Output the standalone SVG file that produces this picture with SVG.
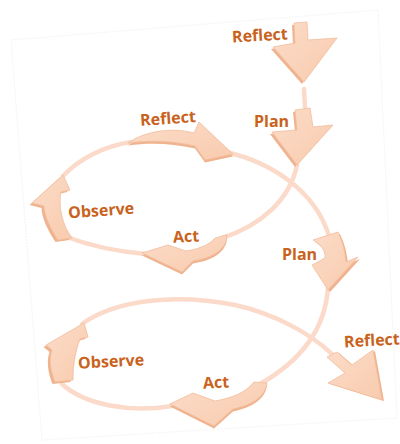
<svg xmlns="http://www.w3.org/2000/svg" width="400" height="444" viewBox="0 0 400 444">
  <defs>
    <linearGradient id="peach" x1="0" y1="0" x2="1" y2="1">
      <stop offset="0" stop-color="#fcdcc8"/>
      <stop offset="1" stop-color="#f8cbae"/>
    </linearGradient>
    <style>
      .page { fill: #ffffff; stroke: #f5f5f5; stroke-width: 1.2; stroke-dasharray: 2 1; }
      .loop { fill: none; stroke: #fbdaca; stroke-width: 4.5; stroke-linecap: round; }
      .side { fill: #efb48f; }
      .face { fill: url(#peach); stroke: #f1bd9c; stroke-width: 0.8; stroke-linejoin: round; }
      .label { font-family: "Open Sans", "Liberation Sans", sans-serif; font-weight: 700; font-size: 16px; fill: #c8621c; }
    </style>
    <!-- arrow outlines, reused for the shaded side and the face -->
    <path id="a-reflect-top" d="M294,23 L307,22 L308,40 L337,38 L304,82 L273,47 L295,43 Z"/>
    <path id="a-plan-1" d="M295,110 L310,108 L313,127 L333,125 L297,165 L272,132 L297,130 Z"/>
    <path id="a-reflect-1" d="M128,143 C145,131 172,127 194,133 L199,122 L233,154 L205,160 L195,146 C173,141 150,140 128,143 Z"/>
    <path id="a-observe-1" d="M58,240 C50,228 44,215 44,206 L32,203 L63,175 L70,190 L61,192 C58,205 62,225 72,238 Z"/>
    <path id="a-act-1" d="M227,235 C227,249 213,258 193,261 L182,272 L142,253 L168,245 L186,251 C200,249 210,244 215,238 Z"/>
    <path id="a-plan-2" d="M313,240 L338,232 C343,242 345,252 346,262 L358,257 L328,290 L312,265 L325,258 C326,250 320,244 313,240 Z"/>
    <path id="a-reflect-2" d="M327,357 L337,352 L352,365 L373,350 L382,400 L328,383 L345,373 Z"/>
    <path id="a-act-2" d="M267,383 C265,397 252,405 233,409 L214,426 L170,404 L193,393 L215,401 C232,398 245,393 254,382 Z"/>
    <path id="a-observe-2" d="M55,382 C50,370 49,358 52,350 L46,345 L84,323 L88,337 L80,339 C75,352 73,366 73,380 Z"/>
  </defs>

  <!-- paper sheet -->
  <polygon class="page" points="11,40 378,10 397,418 42,440"/>

  <!-- loop lines -->
  <g id="connectors">
    <path class="loop" d="M304,89 L305,107"/>
    <path class="loop" d="M226,152 C270,162 315,190 329,236"/>
    <path class="loop" d="M297,165 C290,200 260,226 222,238"/>
    <path class="loop" d="M146,254 C110,251 85,244 64,236"/>
    <path class="loop" d="M63,176 C80,158 105,146 131,142"/>
    <path class="loop" d="M328,288 C325,330 300,362 258,385"/>
    <path class="loop" d="M172,406 C130,413 85,405 62,384"/>
    <path class="loop" d="M82,324 C115,300 175,293 235,305 C275,314 310,333 333,355"/>
  </g>

  <g id="reflect-top">
    <use href="#a-reflect-top" class="side" transform="translate(-2,2)"/>
    <use href="#a-reflect-top" class="face"/>
    <text class="label" x="232" y="41" transform="rotate(-3 259 35)">Reflect</text>
  </g>

  <g id="plan-1">
    <use href="#a-plan-1" class="side" transform="translate(-2,2)"/>
    <use href="#a-plan-1" class="face"/>
    <text class="label" x="254" y="127">Plan</text>
  </g>

  <g id="reflect-1">
    <use href="#a-reflect-1" class="side" transform="translate(0,2.5)"/>
    <use href="#a-reflect-1" class="face"/>
    <text class="label" x="140" y="124" transform="rotate(-4 167 118)">Reflect</text>
  </g>

  <g id="observe-1">
    <use href="#a-observe-1" class="side" transform="translate(-2.5,2)"/>
    <use href="#a-observe-1" class="face"/>
    <text class="label" x="68" y="216" transform="rotate(-4 101 210)">Observe</text>
  </g>

  <g id="act-1">
    <use href="#a-act-1" class="side" transform="translate(0,2.5)"/>
    <use href="#a-act-1" class="face"/>
    <text class="label" x="173" y="242" transform="rotate(-3 186 236)">Act</text>
  </g>

  <g id="plan-2">
    <use href="#a-plan-2" class="side" transform="translate(2,2)"/>
    <use href="#a-plan-2" class="face"/>
    <text class="label" x="282" y="260">Plan</text>
  </g>

  <g id="reflect-2">
    <use href="#a-reflect-2" class="side" transform="translate(2,1)"/>
    <use href="#a-reflect-2" class="face"/>
    <text class="label" x="344" y="346" transform="rotate(-3 371 340)">Reflect</text>
  </g>

  <g id="act-2">
    <use href="#a-act-2" class="side" transform="translate(0,2.5)"/>
    <use href="#a-act-2" class="face"/>
    <text class="label" x="203" y="388" transform="rotate(-3 216 382)">Act</text>
  </g>

  <g id="observe-2">
    <use href="#a-observe-2" class="side" transform="translate(-2.5,2)"/>
    <use href="#a-observe-2" class="face"/>
    <text class="label" x="78" y="367" transform="rotate(-3 111 361)">Observe</text>
  </g>
</svg>
